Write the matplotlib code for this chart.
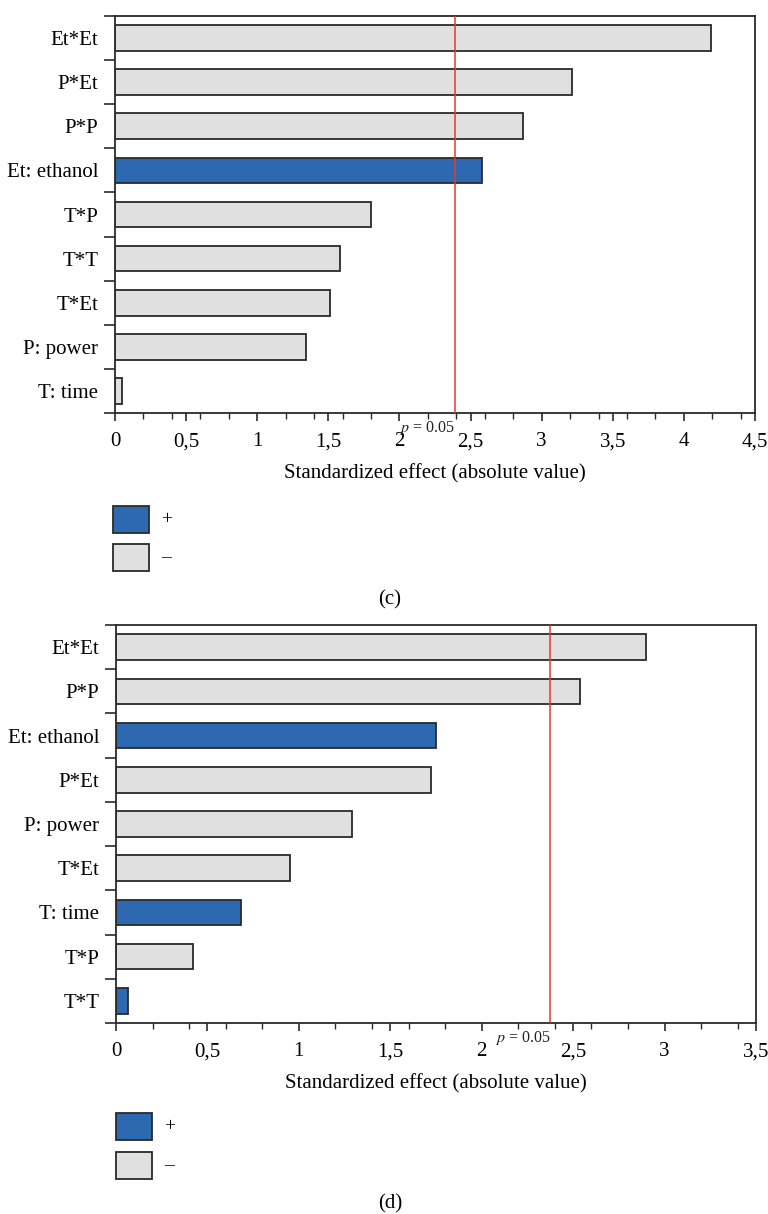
import matplotlib.pyplot as plt
from matplotlib.patches import Rectangle
from matplotlib.ticker import MultipleLocator, FuncFormatter

plt.rcParams['font.family'] = ['Liberation Serif', 'DejaVu Serif']
plt.rcParams['mathtext.fontset'] = 'stix'

# panel (c)
labels_c = ["Et*Et", "P*Et", "P*P", "Et: ethanol", "T*P", "T*T", "T*Et", "P: power", "T: time"]
values_c = [4.19, 3.21, 2.87, 2.58, 1.80, 1.58, 1.51, 1.34, 0.05]
signs_c = ["-", "-", "-", "+", "-", "-", "-", "-", "-"]
pcrit_c = 2.39
xmax_c = 4.5

# panel (d)
labels_d = ["Et*Et", "P*P", "Et: ethanol", "P*Et", "P: power", "T*Et", "T: time", "T*P", "T*T"]
values_d = [2.90, 2.54, 1.75, 1.72, 1.29, 0.95, 0.685, 0.42, 0.067]
signs_d = ["-", "-", "+", "-", "-", "-", "+", "-", "+"]
pcrit_d = 2.375
xmax_d = 3.5

BLUE = "#2c69b0"
GREY = "#e1e0e1"
EDGE = "#2a2a2a"
RED = "#e63a2e"

W, H = 768, 1214
fig = plt.figure(figsize=(W / 100, H / 100), dpi=100)


def fmt(v, pos):
    return ("%g" % v).replace(".", ",")


def panel(rect, labels, values, signs, pcrit, xmax):
    ax = fig.add_axes(rect)
    n = len(labels)
    ys = list(range(n))
    colors = [BLUE if s == "+" else GREY for s in signs]
    ax.barh(ys, values, height=0.58, color=colors, edgecolor=EDGE, linewidth=1.3, zorder=2)
    ax.axvline(pcrit, color=RED, linewidth=1.1, zorder=3)
    ax.set_xlim(0, xmax)
    ax.set_ylim(n - 0.5, -0.5)
    ax.set_yticks(ys)
    ax.set_yticklabels(labels, fontsize=15)
    ax.set_yticks([i - 0.5 for i in range(n + 1)], minor=True)
    ax.tick_params(axis="y", which="major", length=0, pad=12)
    ax.tick_params(axis="y", which="minor", length=8, width=1.2, color=EDGE)
    ax.xaxis.set_major_locator(MultipleLocator(0.5))
    ax.xaxis.set_minor_locator(MultipleLocator(0.2))
    ax.xaxis.set_major_formatter(FuncFormatter(fmt))
    ax.tick_params(axis="x", which="major", length=6, width=1.2, labelsize=15, pad=8, color=EDGE)
    ax.tick_params(axis="x", which="minor", length=4, width=1.0, color=EDGE)
    ax.set_xlabel("Standardized effect (absolute value)", fontsize=15, labelpad=9)
    for sp in ax.spines.values():
        sp.set_color(EDGE)
        sp.set_linewidth(1.3)
    ax.text(pcrit, -0.014, "$p$ = 0.05", transform=ax.get_xaxis_transform(),
            ha="right", va="top", fontsize=11.5, color="#222222")
    return ax


def px_rect(left, top, right, bottom):
    return [left / W, 1 - bottom / H, (right - left) / W, (bottom - top) / H]


panel(px_rect(115, 16, 755, 413), labels_c, values_c, signs_c, pcrit_c, xmax_c)
panel(px_rect(116, 625, 756, 1023), labels_d, values_d, signs_d, pcrit_d, xmax_d)


def legend(x0, y_blue, y_grey):
    for y, c, t in [(y_blue, BLUE, "+"), (y_grey, GREY, "\u2013")]:
        fig.add_artist(Rectangle((x0 / W, 1 - (y + 27) / H), 36 / W, 27 / H,
                                 transform=fig.transFigure, facecolor=c,
                                 edgecolor=EDGE, linewidth=1.3))
        fig.text((x0 + 48) / W, 1 - (y + 13.5) / H, t, ha="left", va="center", fontsize=14)


legend(113, 506, 544)
legend(116, 1113, 1152)

fig.text(390 / W, 1 - 600 / H, "(c)", ha="center", va="center", fontsize=15)
fig.text(390 / W, 1 - 1204 / H, "(d)", ha="center", va="center", fontsize=15)

fig.savefig("out.png", dpi=100)
